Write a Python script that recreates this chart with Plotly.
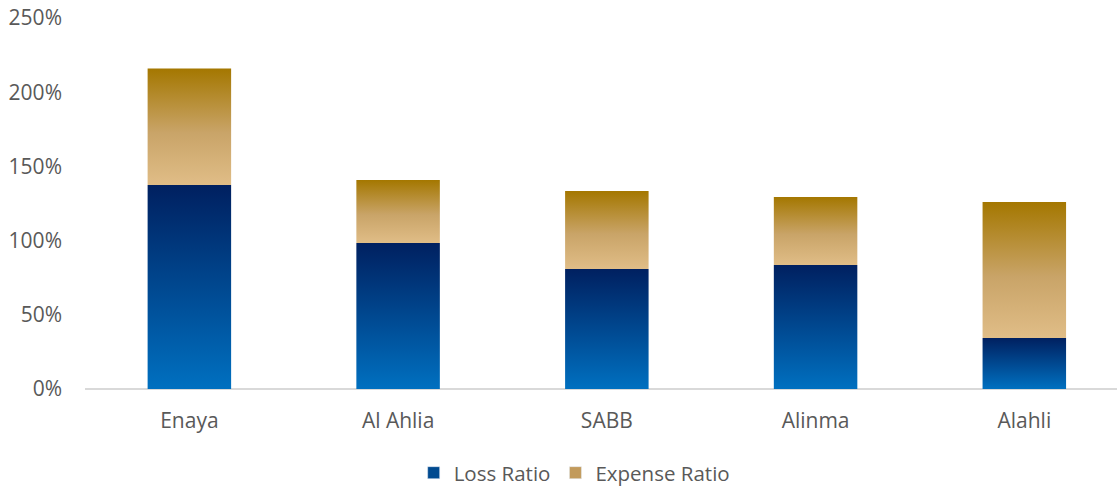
import plotly.graph_objects as go

# Combined ratio breakdown
categories = ["Enaya", "Al Ahlia", "SABB", "Alinma", "Alahli"]
loss_ratio = [1.375, 0.984, 0.809, 0.836, 0.344]
expense_ratio = [0.785, 0.424, 0.525, 0.458, 0.916]

series = [
    ("Loss Ratio", loss_ratio, [[0, "#0070C0"], [1, "#002060"]], "#004A90"),
    ("Expense Ratio", expense_ratio, [[0, "#E0BD87"], [0.45, "#C9A468"], [1, "#A47700"]], "#C29A5B"),
]

bar_width = 0.40
fig = go.Figure()

base = [0.0] * len(categories)
for name, values, scale, legend_color in series:
    for i, (cat, v) in enumerate(zip(categories, values)):
        x0, x1 = i - bar_width / 2, i + bar_width / 2
        y0, y1 = base[i], base[i] + v
        fig.add_trace(go.Scatter(
            x=[x0, x1, x1, x0, x0],
            y=[y0, y0, y1, y1, y0],
            mode="lines",
            fill="toself",
            fillgradient=dict(type="vertical", colorscale=scale, start=y0, stop=y1),
            line=dict(width=0),
            name=name,
            legendgroup=name,
            showlegend=False,
            hoveron="fills",
            text=f"{cat}<br>{name}: {v:.0%}",
            hoverinfo="text",
        ))
        base[i] = y1
    # legend entry (square swatch)
    fig.add_trace(go.Bar(
        x=[None], y=[None], name=name, legendgroup=name,
        marker=dict(color=legend_color),
    ))

fig.update_layout(
    width=1117,
    height=486,
    margin=dict(l=85, r=0, t=18, b=97, autoexpand=False),
    plot_bgcolor="white",
    paper_bgcolor="white",
    font=dict(family="Open Sans", size=21, color="#595959"),
    showlegend=True,
    legend=dict(
        orientation="h",
        x=0.474, xanchor="center",
        y=-0.226, yanchor="middle",
        font=dict(size=20.5, color="#595959"),
        itemwidth=30,
        tracegroupgap=0,
    ),
    xaxis=dict(
        range=[-0.5, 4.444],
        tickvals=list(range(len(categories))),
        ticktext=categories,
        showgrid=False,
        zeroline=False,
        showline=False,
        ticks="",
        ticklabelstandoff=17,
        automargin=False,
    ),
    yaxis=dict(
        range=[0, 2.5],
        tickvals=[0, 0.5, 1.0, 1.5, 2.0, 2.5],
        tickformat=".0%",
        showgrid=False,
        zeroline=True,
        zerolinecolor="#D9D9D9",
        zerolinewidth=2,
        showline=False,
        ticks="",
        ticklabelstandoff=22,
        ticklabeloverflow="allow",
        automargin=False,
    ),
)

# drop the default page margin so the figure fills the window exactly
fig.write_html(
    "out.html",
    config={"displayModeBar": False},
    post_script="document.body.style.margin='0';document.body.style.overflow='hidden';",
)
